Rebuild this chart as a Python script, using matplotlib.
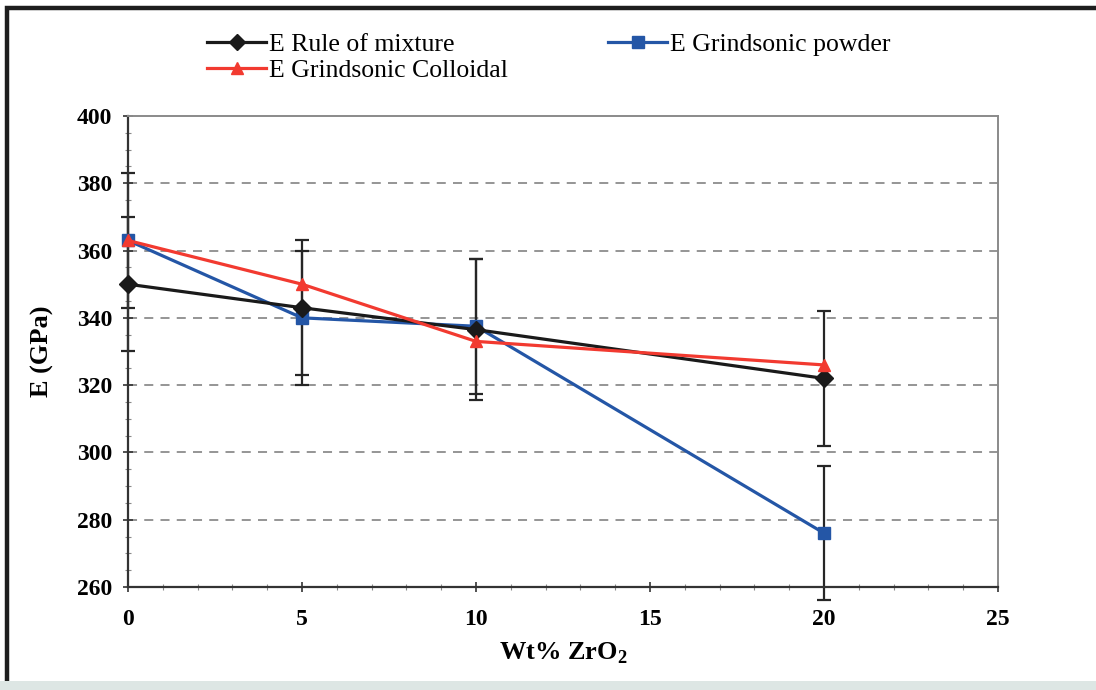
import matplotlib
matplotlib.use("Agg")
import matplotlib.pyplot as plt
from matplotlib.ticker import MultipleLocator
from matplotlib.patches import Rectangle

# Zirconia content (wt%) and Young's modulus (GPa)
wt_zro2 = [0, 5, 10, 20]
e_rule = [350, 343, 336.5, 322]
e_rule_err = [20, 20, 21, 20]
e_powder = [363, 340, 337.5, 276]
e_powder_err = [20, 20, 20, 20]
e_colloidal = [363, 350, 333, 326]

labels = ["E Rule of mixture", "E Grindsonic Colloidal", "E Grindsonic powder"]
x_ticks = [0, 5, 10, 15, 20, 25]
y_ticks = [260, 280, 300, 320, 340, 360, 380, 400]

serif = ["Liberation Serif", "DejaVu Serif"]
plt.rcParams["font.family"] = serif
plt.rcParams["mathtext.fontset"] = "custom"
plt.rcParams["mathtext.rm"] = "Liberation Serif"
plt.rcParams["mathtext.bf"] = "Liberation Serif:bold"

fig = plt.figure(figsize=(10.96, 6.90), dpi=100)
fig.patch.set_facecolor("white")

# outer frame of the figure panel
fig.add_artist(Rectangle((0.006, -0.02), 1.2, 1.008, transform=fig.transFigure,
                         fill=False, edgecolor="#1e1e1e", linewidth=3.2))
fig.add_artist(Rectangle((0, 0), 1, 0.013, transform=fig.transFigure,
                         facecolor="#dde6e4", edgecolor="none"))

ax = fig.add_axes([0.1168, 0.1493, 0.7938, 0.6826])
ax.set_xlim(0, 25)
ax.set_ylim(260, 400)

for y in [280, 300, 320, 340, 360, 380]:
    ax.axhline(y, color="#8c8c8c", linestyle=(0, (5, 4)), linewidth=1.3, zorder=0)

err_kw = dict(ecolor="#262626", elinewidth=1.6, capsize=5, capthick=1.6,
              clip_on=False, zorder=2)

ax.errorbar(wt_zro2, e_rule, yerr=e_rule_err, fmt="none", **err_kw)
ax.errorbar(wt_zro2, e_powder, yerr=e_powder_err, fmt="none", **err_kw)

h_rule, = ax.plot(wt_zro2, e_rule, color="#1a1a1a", linewidth=2.3, marker="D",
                  markersize=9.5, zorder=4, clip_on=False)
h_powder, = ax.plot(wt_zro2, e_powder, color="#2456a6", linewidth=2.3, marker="s",
                    markersize=9, zorder=3, clip_on=False)
h_coll, = ax.plot(wt_zro2, e_colloidal, color="#f23a30", linewidth=2.3, marker="^",
                  markersize=9, zorder=5, clip_on=False)

ax.set_xticks(x_ticks)
ax.set_yticks(y_ticks)
ax.xaxis.set_minor_locator(MultipleLocator(1))
ax.yaxis.set_minor_locator(MultipleLocator(5))
ax.tick_params(axis="both", which="major", direction="inout", length=7, width=1.2,
               color="#333333", labelsize=17, pad=8)
ax.tick_params(axis="both", which="minor", direction="inout", length=4, width=0.8,
               color="#8a8a8a")
ax.tick_params(axis="x", which="major", pad=12)
for lab in ax.get_xticklabels() + ax.get_yticklabels():
    lab.set_fontweight("bold")

for side in ["left", "bottom"]:
    ax.spines[side].set_color("#333333")
    ax.spines[side].set_linewidth(1.6)
for side in ["top", "right"]:
    ax.spines[side].set_color("#8a8a8a")
    ax.spines[side].set_linewidth(1.4)

ax.set_ylabel("E (GPa)", fontsize=19, fontweight="bold", labelpad=16)
ax.set_xlabel("Wt% ZrO$_\\mathbf{2}$", fontsize=19, fontweight="bold", labelpad=8)

fig.legend([h_rule, h_coll, h_powder], labels, ncol=2, loc="upper left",
           bbox_to_anchor=(0.168, 0.986), frameon=False, fontsize=18.5,
           handlelength=2.3, handletextpad=0.1, columnspacing=3.9,
           labelspacing=0.12, markerscale=0.9)

fig.savefig("out.png", dpi=100, facecolor="white")
